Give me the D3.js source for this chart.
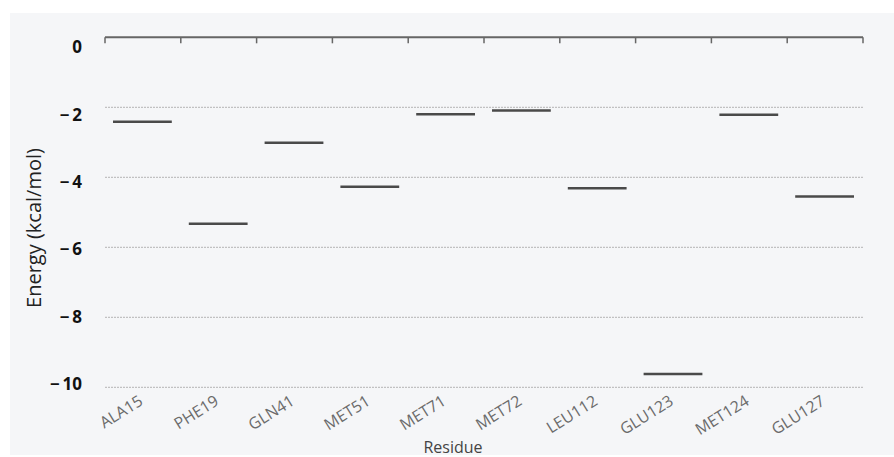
<!DOCTYPE html>
<html>
<head>
  <script src="https://d3js.org/d3.v7.min.js"></script>
  <style>
    body { margin: 0; background: #fff; }
    text { font-family: "Open Sans", "Noto Sans", sans-serif; }
  </style>
</head>
<body>
  <svg id="chart" width="894" height="457"></svg>
  <script>
    const residues = ["ALA15", "PHE19", "GLN41", "MET51", "MET71", "MET72", "LEU112", "GLU123", "MET124", "GLU127"];
    const energies = [-2.41, -5.33, -3.01, -4.27, -2.2, -2.09, -4.31, -9.62, -2.21, -4.55];
    const yTicks = [0, -2, -4, -6, -8, -10];

    const svg = d3.select("#chart");

    // light panel behind the plot
    svg.append("rect")
      .attr("x", 10).attr("y", 13)
      .attr("width", 884).attr("height", 442)
      .attr("fill", "#f5f6f8");

    const plotL = 105, plotR = 863, plotT = 37.3, plotB = 387.3;

    const x = d3.scaleBand().domain(residues).range([plotL, plotR]);
    const y = d3.scaleLinear().domain([-10, 0]).range([plotB, plotT]);
    // tick labels in the picture sit slightly off the grid lines
    const yLabel = d3.scaleLinear().domain([-10, 0]).range([384, 47.5]);

    // grid lines
    svg.append("g")
      .selectAll("line")
      .data(yTicks.filter(d => d !== 0))
      .join("line")
      .attr("x1", plotL).attr("x2", plotR)
      .attr("y1", d => y(d)).attr("y2", d => y(d))
      .attr("stroke", "#b5b5b5")
      .attr("stroke-width", 1)
      .attr("stroke-dasharray", "2,1");

    // top axis line with ticks at band edges
    const edges = residues.map(r => x(r)).concat([plotR]);
    svg.append("line")
      .attr("x1", plotL).attr("x2", plotR)
      .attr("y1", plotT).attr("y2", plotT)
      .attr("stroke", "#666").attr("stroke-width", 2);
    svg.append("g")
      .selectAll("line")
      .data(edges)
      .join("line")
      .attr("x1", d => d).attr("x2", d => d)
      .attr("y1", plotT).attr("y2", plotT + 6)
      .attr("stroke", "#666").attr("stroke-width", 1.5);

    // y tick labels
    svg.append("g")
      .selectAll("text")
      .data(yTicks)
      .join("text")
      .attr("x", 82)
      .attr("y", d => yLabel(d))
      .attr("dy", "0.35em")
      .attr("text-anchor", "end")
      .attr("font-size", 17)
      .attr("font-weight", "bold")
      .attr("fill", "#111")
      .text(d => d === 0 ? "0" : "\u2212\u2009" + Math.abs(d));

    // energy marks
    svg.append("g")
      .selectAll("line")
      .data(residues)
      .join("line")
      .attr("x1", (d) => x(d) + 8)
      .attr("x2", (d) => x(d) + x.bandwidth() - 9)
      .attr("y1", (d, i) => y(energies[i]))
      .attr("y2", (d, i) => y(energies[i]))
      .attr("stroke", "#4a4a4a")
      .attr("stroke-width", 2.5);

    // x labels
    svg.append("g")
      .selectAll("text")
      .data(residues)
      .join("text")
      .attr("transform", d => `translate(${x(d) + x.bandwidth() / 2 + 1},${404}) rotate(-32)`)
      .attr("text-anchor", "end")
      .attr("font-size", 16)
      .attr("fill", "#6b6b6b")
      .text(d => d);

    // axis titles
    svg.append("text")
      .attr("x", 453).attr("y", 453)
      .attr("text-anchor", "middle")
      .attr("font-size", 16)
      .attr("fill", "#444")
      .text("Residue");

    svg.append("text")
      .attr("transform", `translate(41,228) rotate(-90)`)
      .attr("text-anchor", "middle")
      .attr("font-size", 20)
      .attr("fill", "#222")
      .text("Energy (kcal/mol)");
  </script>
</body>
</html>
